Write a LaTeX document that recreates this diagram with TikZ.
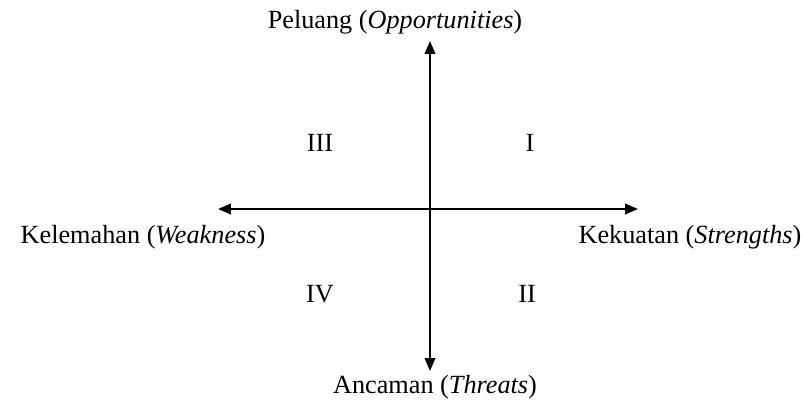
\documentclass[tikz,border=0pt]{standalone}
\usepackage{fontspec}
\setmainfont{Liberation Serif}
\usetikzlibrary{arrows.meta}

\begin{document}
\begin{tikzpicture}[
    x=0.03cm, y=-0.03cm,
    axis/.style={
      {Triangle[length=11pt,width=9pt]}-{Triangle[length=11pt,width=9pt]},
      line width=1.6pt, black
    },
    label/.style={
      font=\fontsize{22.4}{26}\selectfont, text=black, inner sep=0pt, anchor=base
    },
    quad/.style={
      font=\fontsize{22.4}{26}\selectfont, text=black, inner sep=0pt, anchor=base
    },
  ]
  \useasboundingbox (0,0) rectangle (803,400);

  % =================== Axes ===================
  \coordinate (top) at (430,41);
  \coordinate (bottom) at (430,371);
  \coordinate (left) at (218,209);
  \coordinate (right) at (638,209);
  \draw[axis] (bottom) -- (top);
  \draw[axis] (left) -- (right);

  % =================== Axis labels ===================
  \node[label] (opp) at (395,29) {Peluang (\textit{Opportunities})};
  \node[label] (thr) at (435,394) {Ancaman (\textit{Threats})};
  \node[label] (weak) at (143,244) {Kelemahan (\textit{Weakness})};
  \node[label] (str) at (690,244) {Kekuatan (\textit{Strengths})};

  % =================== Quadrants ===================
  \node[quad] (q3) at (320,152) {III};
  \node[quad] (q1) at (530,152) {I};
  \node[quad] (q4) at (320,303) {IV};
  \node[quad] (q2) at (527,303) {II};

\end{tikzpicture}
\end{document}
